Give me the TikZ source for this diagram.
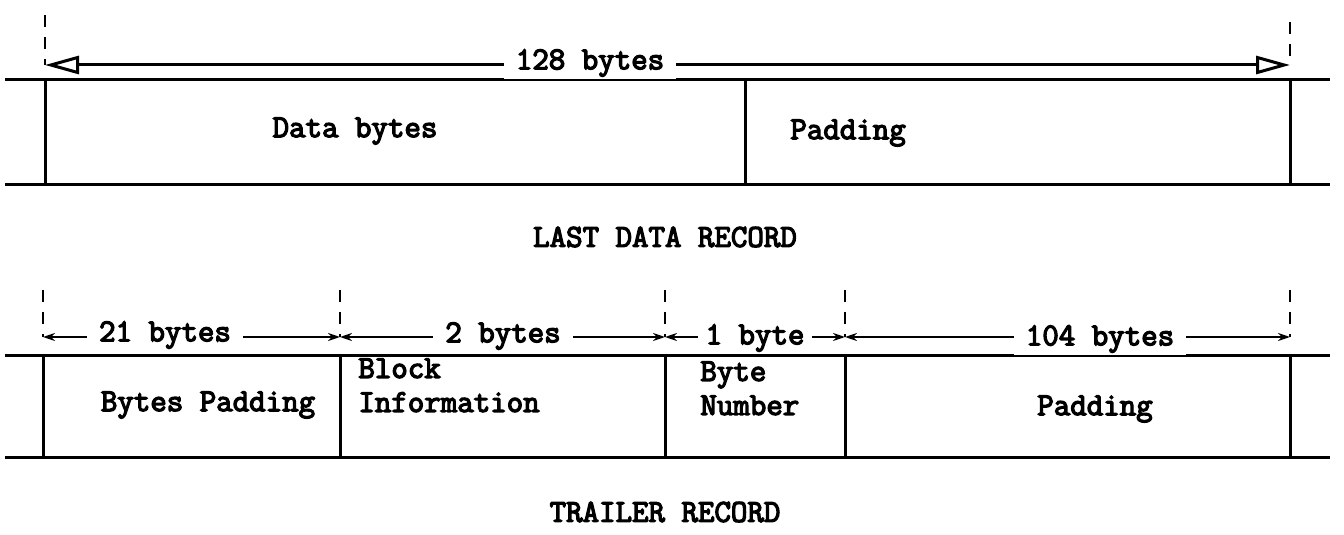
\documentclass[tikz,border=0pt]{standalone}
\usepackage{fontspec}
\newfontfamily\typefont[FakeBold=4]{Latin Modern Mono}
\usetikzlibrary{arrows.meta}
\tikzset{
  rule/.style={line width=1.5pt},
  guide/.style={line width=1pt,dash pattern=on 6pt off 5pt},
  wide/.style={line width=1.5pt,{Triangle[open,length=17pt,width=9pt]}-{Triangle[open,length=17pt,width=9pt]}},
  narrow/.style={line width=1.4pt,{Stealth[length=6pt,width=4pt]}-{Stealth[length=6pt,width=4pt]}},
  gap/.style={fill=white,inner xsep=6pt,inner ysep=1pt},
  txt/.style={font=\typefont\fontsize{16}{17}\selectfont,inner sep=0pt},
  celltext/.style={txt,align=left}
}
\begin{document}
\begin{tikzpicture}[x=0.5pt,y=-0.5pt]
  \useasboundingbox (0,0) rectangle (1344,535);
  % last data record
  \begin{scope}
    \draw[rule] (5,80) -- (1330,80);
    \draw[rule] (5,184) -- (1330,184);
    \foreach \xx in {45,745,1290}
      \draw[rule] (\xx,80) -- (\xx,184);
    \draw[guide] (45,15) -- (45,65);
    \draw[guide] (1290,22) -- (1290,65);
    \coordinate (d0) at (45,65);
    \coordinate (d1) at (1290,65);
    \draw[wide] (d0) -- (d1);
    \node[txt,gap] (total) at (590,63) {128 bytes};
    \node[txt] (data) at (355,131) {Data bytes};
    \node[txt,anchor=west] (pad) at (790,133) {Padding};
    \node[txt] (last) at (665,237) {LAST DATA RECORD};
  \end{scope}
  % trailer record
  \begin{scope}
    \draw[rule] (5,355) -- (1330,355);
    \draw[rule] (5,457) -- (1330,457);
    \foreach \xx/\nn in {43/t0,340/t1,665/t2,845/t3,1290/t4} {
      \draw[rule] (\xx,355) -- (\xx,457);
      \draw[guide] (\xx,290) -- (\xx,337);
      \coordinate (\nn) at (\xx,337);
    }
    \draw[narrow] (t0) -- (t1);
    \draw[narrow] (t1) -- (t2);
    \draw[narrow] (t2) -- (t3);
    \draw[narrow] (t3) -- (t4);
    \node[txt,gap] (w0) at (165,335) {21 bytes};
    \node[txt,gap] (w1) at (503,336) {2 bytes};
    \node[txt,gap,inner xsep=4pt] (w2) at (755,338) {1 byte};
    \node[txt,gap] (w3) at (1100,339) {104 bytes};
    \node[txt] (bpad) at (208,405) {Bytes Padding};
    \node[celltext,anchor=north west] (block) at (358,358) {Block\\Information};
    \node[celltext,anchor=north west] (bnum) at (700,361) {Byte\\Number};
    \node[txt] (tpad) at (1095,409) {Padding};
    \node[txt] (trail) at (665,512) {TRAILER RECORD};
  \end{scope}
\end{tikzpicture}
\end{document}
